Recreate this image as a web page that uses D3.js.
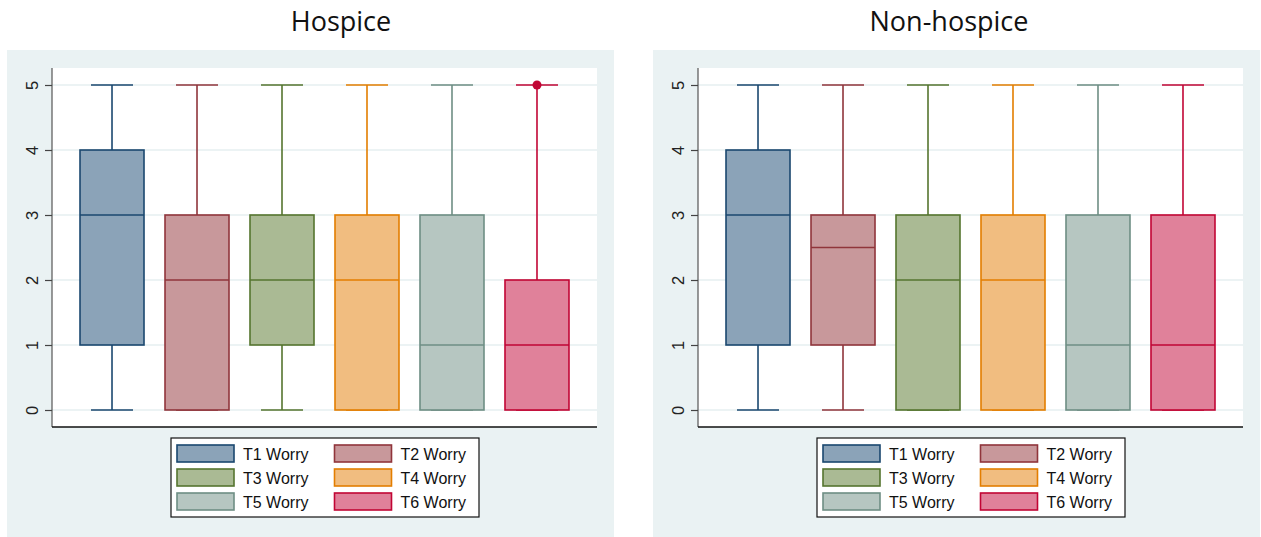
<!DOCTYPE html>
<html>
<head>
<meta charset="utf-8">
<script src="https://cdn.jsdelivr.net/npm/d3@7"></script>
<style>
  html, body { margin: 0; padding: 0; background: #ffffff; }
  svg { display: block; }
</style>
</head>
<body>
<svg id="chart" width="1261" height="537"></svg>
<script>
// Worry scores (0–5) at six time points, split by hospice enrolment
const categories = ["T1 Worry", "T2 Worry", "T3 Worry", "T4 Worry", "T5 Worry", "T6 Worry"];
const yTicks = [0, 1, 2, 3, 4, 5];
const panelTitles = ["Hospice", "Non-hospice"];

// Hospice group: box-plot summary per time point
const hospiceLow      = [0, 0, 0, 0, 0, 0];
const hospiceQ1       = [1, 0, 1, 0, 0, 0];
const hospiceMedian   = [3, 2, 2, 2, 1, 1];
const hospiceQ3       = [4, 3, 3, 3, 3, 2];
const hospiceHigh     = [5, 5, 5, 5, 5, 5];
const hospiceOutliers = [[], [], [], [], [], [5]];

// Non-hospice group
const nonHospiceLow      = [0, 0, 0, 0, 0, 0];
const nonHospiceQ1       = [1, 1, 0, 0, 0, 0];
const nonHospiceMedian   = [3, 2.5, 2, 2, 1, 1];
const nonHospiceQ3       = [4, 3, 3, 3, 3, 3];
const nonHospiceHigh     = [5, 5, 5, 5, 5, 5];
const nonHospiceOutliers = [[], [], [], [], [], []];

// Series colours: outline and translucent-looking fill
const strokeColors = ["#1a476f", "#90353b", "#55752f", "#e37e00", "#6e8e84", "#c10534"];
const fillColors   = ["#8ba3b8", "#c8989b", "#aaba94", "#f1bd80", "#b6c6c1", "#e0819a"];

const groups = [
  { title: panelTitles[0], low: hospiceLow, q1: hospiceQ1, med: hospiceMedian, q3: hospiceQ3, high: hospiceHigh, out: hospiceOutliers, dx: 0, titleX: 341 },
  { title: panelTitles[1], low: nonHospiceLow, q1: nonHospiceQ1, med: nonHospiceMedian, q3: nonHospiceQ3, high: nonHospiceHigh, out: nonHospiceOutliers, dx: 646, titleX: 949 - 646 }
];

const svg = d3.select("#chart");
const bg = "#eaf2f3";
const font = "'Liberation Sans', Arial, sans-serif";

// Plot-region geometry within one panel
const panel = { x: 7, y: 50, w: 607, h: 487 };
const plot = { left: 52, right: 597, top: 68, bottom: 427 };

const y = d3.scaleLinear().domain([0, 5]).range([410, 85]);
const x = d3.scalePoint().domain(categories).range([plot.left, plot.right]).padding(0.706);
const boxW = 64, capW = 42;

groups.forEach(g => {
  const root = svg.append("g").attr("transform", `translate(${g.dx},0)`);

  // Title
  root.append("text")
    .attr("x", g.titleX).attr("y", 31)
    .attr("text-anchor", "middle")
    .attr("font-family", "'Open Sans', 'Noto Sans', sans-serif")
    .attr("font-size", 27)
    .attr("fill", "#111")
    .text(g.title);

  // Panel background and white plot region
  root.append("rect").attr("x", panel.x).attr("y", panel.y).attr("width", panel.w).attr("height", panel.h).attr("fill", bg);
  root.append("rect").attr("x", plot.left).attr("y", plot.top)
    .attr("width", plot.right - plot.left).attr("height", plot.bottom - plot.top).attr("fill", "#ffffff");

  // Horizontal gridlines
  root.append("g").selectAll("line").data(yTicks).join("line")
    .attr("x1", plot.left).attr("x2", plot.right)
    .attr("y1", d => y(d)).attr("y2", d => y(d))
    .attr("stroke", "#e6eff1").attr("stroke-width", 1.5);

  // Y axis with vertical tick labels
  const yAxis = root.append("g")
    .attr("transform", `translate(${plot.left},0)`)
    .call(d3.axisLeft(y).tickValues(yTicks).tickFormat(d3.format("d")).tickSize(7).tickSizeOuter(0));
  yAxis.select(".domain").attr("d", `M0,${plot.top}V${plot.bottom}`).attr("stroke", "#555").attr("stroke-width", 1.2);
  yAxis.selectAll(".tick line").attr("stroke", "#444").attr("stroke-width", 1.2);
  yAxis.selectAll(".tick text")
    .attr("font-family", font).attr("font-size", 16.5).attr("fill", "#222")
    .attr("x", null).attr("dy", null)
    .attr("text-anchor", "middle")
    .attr("transform", "translate(-18,0) rotate(-90)")
    .attr("dominant-baseline", "middle");

  // Bottom axis line
  root.append("line")
    .attr("x1", plot.left).attr("x2", plot.right)
    .attr("y1", plot.bottom).attr("y2", plot.bottom)
    .attr("stroke", "#111").attr("stroke-width", 1.5);

  const boxes = root.append("g").selectAll("g").data(categories).join("g");

  // Whiskers and caps
  boxes.append("line")
    .attr("x1", d => x(d)).attr("x2", d => x(d))
    .attr("y1", (d, i) => y(g.high[i])).attr("y2", (d, i) => y(g.q3[i]))
    .attr("stroke", (d, i) => strokeColors[i]).attr("stroke-width", 1.6);
  boxes.append("line")
    .attr("x1", d => x(d)).attr("x2", d => x(d))
    .attr("y1", (d, i) => y(g.q1[i])).attr("y2", (d, i) => y(g.low[i]))
    .attr("stroke", (d, i) => strokeColors[i]).attr("stroke-width", 1.6);
  boxes.append("line")
    .attr("x1", d => x(d) - capW / 2).attr("x2", d => x(d) + capW / 2)
    .attr("y1", (d, i) => y(g.high[i])).attr("y2", (d, i) => y(g.high[i]))
    .attr("stroke", (d, i) => strokeColors[i]).attr("stroke-width", 1.6);
  boxes.append("line")
    .attr("x1", d => x(d) - capW / 2).attr("x2", d => x(d) + capW / 2)
    .attr("y1", (d, i) => y(g.low[i])).attr("y2", (d, i) => y(g.low[i]))
    .attr("stroke", (d, i) => strokeColors[i]).attr("stroke-width", 1.6);

  // Boxes (interquartile range)
  boxes.append("rect")
    .attr("x", d => x(d) - boxW / 2).attr("width", boxW)
    .attr("y", (d, i) => y(g.q3[i]))
    .attr("height", (d, i) => y(g.q1[i]) - y(g.q3[i]))
    .attr("fill", (d, i) => fillColors[i])
    .attr("stroke", (d, i) => strokeColors[i]).attr("stroke-width", 1.6);

  // Medians
  boxes.append("line")
    .attr("x1", d => x(d) - boxW / 2).attr("x2", d => x(d) + boxW / 2)
    .attr("y1", (d, i) => y(g.med[i])).attr("y2", (d, i) => y(g.med[i]))
    .attr("stroke", (d, i) => strokeColors[i]).attr("stroke-width", 1.6);

  // Outside values
  boxes.each(function (d, i) {
    d3.select(this).selectAll("circle").data(g.out[i]).join("circle")
      .attr("cx", x(d)).attr("cy", v => y(v)).attr("r", 4.5)
      .attr("fill", strokeColors[i]);
  });

  // Legend
  const leg = root.append("g");
  leg.append("rect").attr("x", 171).attr("y", 438).attr("width", 308).attr("height", 79)
    .attr("fill", "#ffffff").attr("stroke", "#111").attr("stroke-width", 1.2);
  const items = leg.selectAll("g.item").data(categories).join("g").attr("class", "item")
    .attr("transform", (d, i) => `translate(${i % 2 === 0 ? 177 : 334.5},${445 + Math.floor(i / 2) * 24})`);
  items.append("rect")
    .attr("width", 57).attr("height", 17)
    .attr("fill", (d, i) => fillColors[i])
    .attr("stroke", (d, i) => strokeColors[i]).attr("stroke-width", 1.6);
  items.append("text")
    .attr("x", 66).attr("y", 15)
    .attr("font-family", font).attr("font-size", 16).attr("fill", "#111")
    .text(d => d);
});
</script>
</body>
</html>
